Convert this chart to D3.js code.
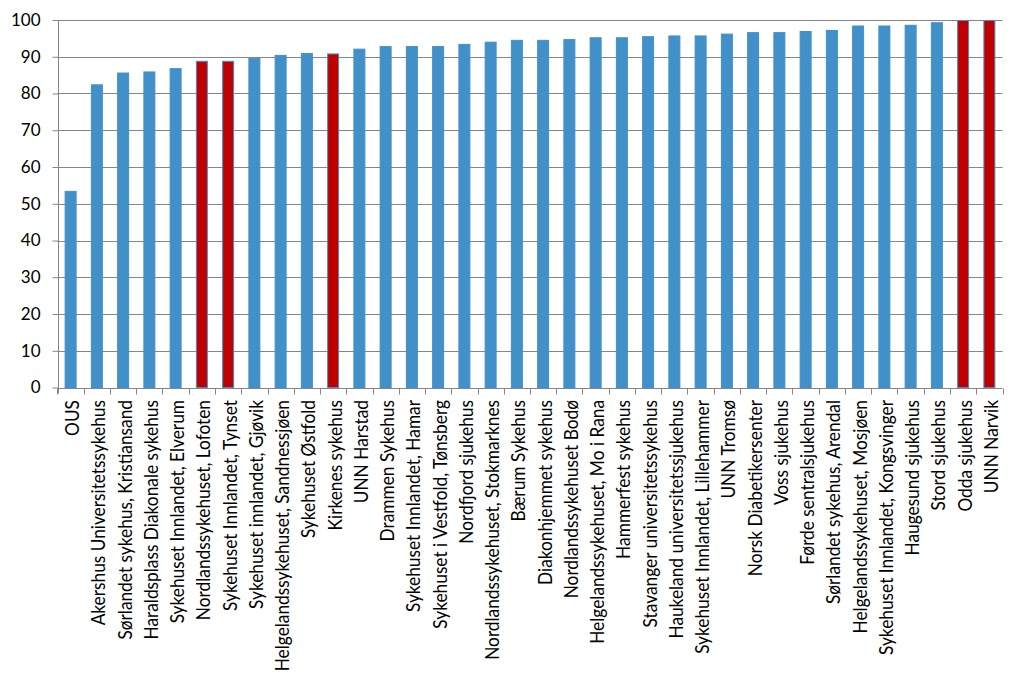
<!DOCTYPE html>
<html>
<head>
<meta charset="utf-8">
<script src="https://cdn.jsdelivr.net/npm/d3@7"></script>
<style>
  html, body { margin: 0; padding: 0; background: #ffffff; }
  svg { display: block; }
  text { font-family: Lato, "Open Sans", sans-serif; fill: #000; }
</style>
</head>
<body>
<svg id="chart" width="1024" height="680"></svg>
<script>
const categories = [
  "OUS",
  "Akershus Universitetssykehus",
  "Sørlandet sykehus, Kristiansand",
  "Haraldsplass Diakonale sykehus",
  "Sykehuset Innlandet, Elverum",
  "Nordlandssykehuset, Lofoten",
  "Sykehuset Innlandet, Tynset",
  "Sykehuset innlandet, Gjøvik",
  "Helgelandssykehuset, Sandnessjøen",
  "Sykehuset Østfold",
  "Kirkenes sykehus",
  "UNN Harstad",
  "Drammen Sykehus",
  "Sykehuset Innlandet, Hamar",
  "Sykehuset i Vestfold, Tønsberg",
  "Nordfjord sjukehus",
  "Nordlandssykehuset, Stokmarknes",
  "Bærum Sykehus",
  "Diakonhjemmet sykehus",
  "Nordlandssykehuset Bodø",
  "Helgelandssykehuset, Mo i Rana",
  "Hammerfest sykehus",
  "Stavanger universitetssykehus",
  "Haukeland universitetssjukehus",
  "Sykehuset Innlandet, Lillehammer",
  "UNN Tromsø",
  "Norsk Diabetikersenter",
  "Voss sjukehus",
  "Førde sentralsjukehus",
  "Sørlandet sykehus, Arendal",
  "Helgelandssykehuset, Mosjøen",
  "Sykehuset Innlandet, Kongsvinger",
  "Haugesund sjukehus",
  "Stord sjukehus",
  "Odda sjukehus",
  "UNN Narvik"
];
const values = [
  53.5, 82.5, 85.7, 86.0, 86.9, 88.9, 88.9, 89.7, 90.5, 91.0,
  90.9, 92.2, 92.9, 92.9, 92.9, 93.5, 94.1, 94.6, 94.6, 94.8,
  95.3, 95.3, 95.6, 95.8, 95.8, 96.3, 96.7, 96.7, 97.0, 97.3,
  98.5, 98.5, 98.7, 99.4, 100, 100
];
const highlighted = [
  "Nordlandssykehuset, Lofoten",
  "Sykehuset Innlandet, Tynset",
  "Kirkenes sykehus",
  "Odda sjukehus",
  "UNN Narvik"
];
const yTicks = [0, 10, 20, 30, 40, 50, 60, 70, 80, 90, 100];

const data = categories.map((c, i) => ({ name: c, value: values[i] }));

const svg = d3.select("#chart");
const mLeft = 57.5, mRight = 1002.5, mTop = 20, mBottom = 387.5;

const x = d3.scaleBand()
  .domain(categories)
  .range([mLeft, mRight])
  .paddingInner(0.543)
  .paddingOuter(0.2715);

const y = d3.scaleLinear().domain([0, 100]).range([mBottom, mTop]);

const gridColor = "#868686";
const blue = "#4290C9";
const red = "#C00000";

// gridlines
svg.append("g")
  .selectAll("line")
  .data(yTicks)
  .join("line")
  .attr("x1", mLeft)
  .attr("x2", mRight)
  .attr("y1", d => Math.round(y(d)) + 0.5)
  .attr("y2", d => Math.round(y(d)) + 0.5)
  .attr("stroke", gridColor)
  .attr("stroke-width", 1);

// bars
svg.append("g")
  .selectAll("rect")
  .data(data)
  .join("rect")
  .attr("x", d => x(d.name) + 0.5)
  .attr("width", x.bandwidth() - 1)
  .attr("y", d => y(d.value) + 0.5)
  .attr("height", d => y(0) - y(d.value) - 0.5)
  .attr("fill", d => highlighted.includes(d.name) ? red : blue)
  .attr("stroke", blue)
  .attr("stroke-width", 1);

// y axis
const yAxis = d3.axisLeft(y).tickValues(yTicks).tickSize(6).tickPadding(12);
const gy = svg.append("g")
  .attr("transform", `translate(${Math.round(mLeft) + 0.5},0)`)
  .call(yAxis);
gy.select(".domain").remove();
gy.selectAll(".tick line").attr("stroke", gridColor);
gy.selectAll(".tick text")
  .attr("font-size", 17)
  .attr("font-family", "Lato, sans-serif")
  .attr("fill", "#000");
gy.append("line")
  .attr("x1", 0).attr("x2", 0)
  .attr("y1", mTop).attr("y2", mBottom + 6)
  .attr("stroke", gridColor);

// x axis
const step = x.step();
const boundaries = categories.map(c => x(c) - x.paddingOuter() * step);
boundaries.push(mRight);
const gx = svg.append("g");
gx.selectAll("line.tk")
  .data(boundaries)
  .join("line")
  .attr("class", "tk")
  .attr("x1", d => Math.round(d) + 0.5)
  .attr("x2", d => Math.round(d) + 0.5)
  .attr("y1", Math.round(mBottom) + 0.5)
  .attr("y2", Math.round(mBottom) + 6.5)
  .attr("stroke", gridColor);

gx.selectAll("text")
  .data(categories)
  .join("text")
  .attr("transform", c => `translate(${x(c) + x.bandwidth() / 2 + 1.5},400) rotate(-90) scale(1,1.12)`)
  .attr("text-anchor", "end")
  .attr("dy", "0.36em")
  .attr("font-size", 17.3)
  .text(c => c);
</script>
</body>
</html>
